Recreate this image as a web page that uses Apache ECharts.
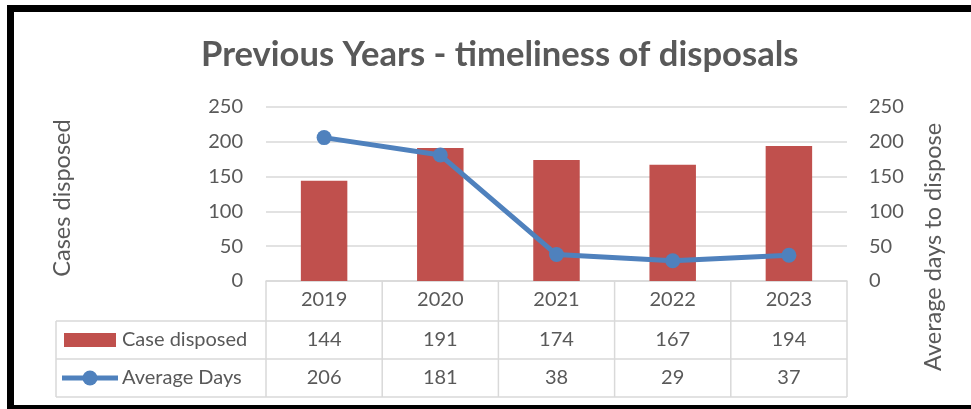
<!DOCTYPE html>
<html>
<head>
<meta charset="utf-8">
<script src="https://cdn.jsdelivr.net/npm/echarts@6/dist/echarts.min.js"></script>
<style>
  html, body { margin: 0; padding: 0; background: #fff; }
  #chart { width: 971px; height: 409px; }
</style>
</head>
<body>
<div id="chart"></div>
<script>
// Yearly disposal figures
const years = ['2019', '2020', '2021', '2022', '2023'];
const casesDisposed = [144, 191, 174, 167, 194];
const averageDays = [206, 181, 38, 29, 37];
const axisTicks = [0, 50, 100, 150, 200, 250];

const FONT = 'Lato, "Open Sans", sans-serif';
const TXT = '#595959';
const BAR = '#C0504D';
const LINE = '#4F81BD';
const RULE = '#D9D9D9';
const FS = 20;

const chart = echarts.init(document.getElementById('chart'), null, { renderer: 'canvas' });

const yAxisBase = {
  type: 'value',
  min: axisTicks[0],
  max: axisTicks[axisTicks.length - 1],
  interval: axisTicks[1] - axisTicks[0],
  axisLine: { show: false },
  axisTick: { show: false }
};

chart.setOption({
  animation: false,
  textStyle: { fontFamily: FONT, color: TXT },
  title: {
    text: 'Previous Years - timeliness of disposals',
    left: 196,
    top: 32,
    textStyle: { fontFamily: FONT, fontSize: 34.6, fontWeight: 'bold', color: TXT }
  },
  grid: { left: 266, right: 124, top: 107, bottom: 128 },
  xAxis: {
    type: 'category',
    data: years,
    axisLine: { show: true, lineStyle: { color: RULE, width: 1.5 } },
    axisTick: { show: false },
    axisLabel: { fontSize: FS, color: TXT, fontFamily: FONT, margin: 9 }
  },
  yAxis: [
    Object.assign({}, yAxisBase, {
      position: 'left',
      axisLabel: { fontSize: FS, color: TXT, fontFamily: FONT, margin: 23 },
      splitLine: { lineStyle: { color: RULE, width: 1.5 } }
    }),
    Object.assign({}, yAxisBase, {
      position: 'right',
      axisLabel: { fontSize: FS, color: TXT, fontFamily: FONT, margin: 22 },
      splitLine: { show: false }
    })
  ],
  series: [
    {
      name: 'Case disposed',
      type: 'bar',
      data: casesDisposed,
      yAxisIndex: 0,
      barWidth: '40%',
      itemStyle: { color: BAR }
    },
    {
      name: 'Average Days',
      type: 'line',
      data: averageDays,
      yAxisIndex: 1,
      symbol: 'circle',
      symbolSize: 15,
      lineStyle: { color: LINE, width: 5 },
      itemStyle: { color: LINE }
    }
  ]
});

// Data table under the plot, laid out from the category axis
function buildTable() {
  const gridRect = chart.getModel().getComponent('grid').coordinateSystem.getRect();
  const colW = gridRect.width / years.length;
  const x0 = gridRect.x;
  const x1 = gridRect.x + gridRect.width;
  const yTop = gridRect.y + gridRect.height;
  const rowH = [40, 38, 38];
  const r1 = yTop + rowH[0];
  const r2 = r1 + rowH[1];
  const r3 = r2 + rowH[2];
  const tableLeft = 56;
  const lineStyle = { stroke: RULE, lineWidth: 1.5 };
  const els = [];

  // frame rules
  const hLine = (xa, xb, y) => els.push({ type: 'line', shape: { x1: xa, y1: y, x2: xb, y2: y }, style: lineStyle, silent: true });
  const vLine = (x, ya, yb) => els.push({ type: 'line', shape: { x1: x, y1: ya, x2: x, y2: yb }, style: lineStyle, silent: true });
  hLine(tableLeft, x1, r1);
  hLine(tableLeft, x1, r2);
  hLine(tableLeft, x1, r3);
  vLine(tableLeft, r1, r3);
  for (let i = 0; i <= years.length; i++) vLine(x0 + colW * i, yTop, r3);

  // values
  years.forEach((y, i) => {
    const cx = chart.convertToPixel({ xAxisIndex: 0 }, y);
    [[casesDisposed[i], (r1 + r2) / 2], [averageDays[i], (r2 + r3) / 2]].forEach(([v, cy]) => {
      els.push({
        type: 'text', x: cx, y: cy, silent: true,
        style: { text: String(v), fill: TXT, font: FS + 'px ' + FONT, align: 'center', verticalAlign: 'middle' }
      });
    });
  });

  // legend keys + row labels
  const r1c = (r1 + r2) / 2;
  const r2c = (r2 + r3) / 2;
  els.push({ type: 'rect', shape: { x: 64, y: r1c - 7, width: 52, height: 14 }, style: { fill: BAR }, silent: true });
  els.push({ type: 'line', shape: { x1: 62, y1: r2c, x2: 118, y2: r2c }, style: { stroke: LINE, lineWidth: 5 }, silent: true });
  els.push({ type: 'circle', shape: { cx: 90, cy: r2c, r: 7.5 }, style: { fill: LINE }, silent: true });
  els.push({ type: 'text', x: 122, y: r1c, silent: true,
    style: { text: 'Case disposed', fill: TXT, font: FS + 'px ' + FONT, align: 'left', verticalAlign: 'middle' } });
  els.push({ type: 'text', x: 122, y: r2c, silent: true,
    style: { text: 'Average Days', fill: TXT, font: FS + 'px ' + FONT, align: 'left', verticalAlign: 'middle' } });

  // axis titles
  const titleFont = '23.5px ' + FONT;
  els.push({ type: 'text', x: 62, y: 198, rotation: Math.PI / 2, silent: true,
    style: { text: 'Cases disposed', fill: TXT, font: titleFont, align: 'center', verticalAlign: 'middle' } });
  els.push({ type: 'text', x: 933, y: 247, rotation: Math.PI / 2, silent: true,
    style: { text: 'Average days to dispose', fill: TXT, font: titleFont, align: 'center', verticalAlign: 'middle' } });

  // outer frame
  els.push({ type: 'rect', shape: { x: 7, y: 5, width: 980, height: 7 }, style: { fill: '#000' }, silent: true });
  els.push({ type: 'rect', shape: { x: 7, y: 5, width: 7, height: 404 }, style: { fill: '#000' }, silent: true });
  els.push({ type: 'rect', shape: { x: 7, y: 405, width: 980, height: 4 }, style: { fill: '#000' }, silent: true });

  chart.setOption({ graphic: { elements: els } });
}
buildTable();
</script>
</body>
</html>
